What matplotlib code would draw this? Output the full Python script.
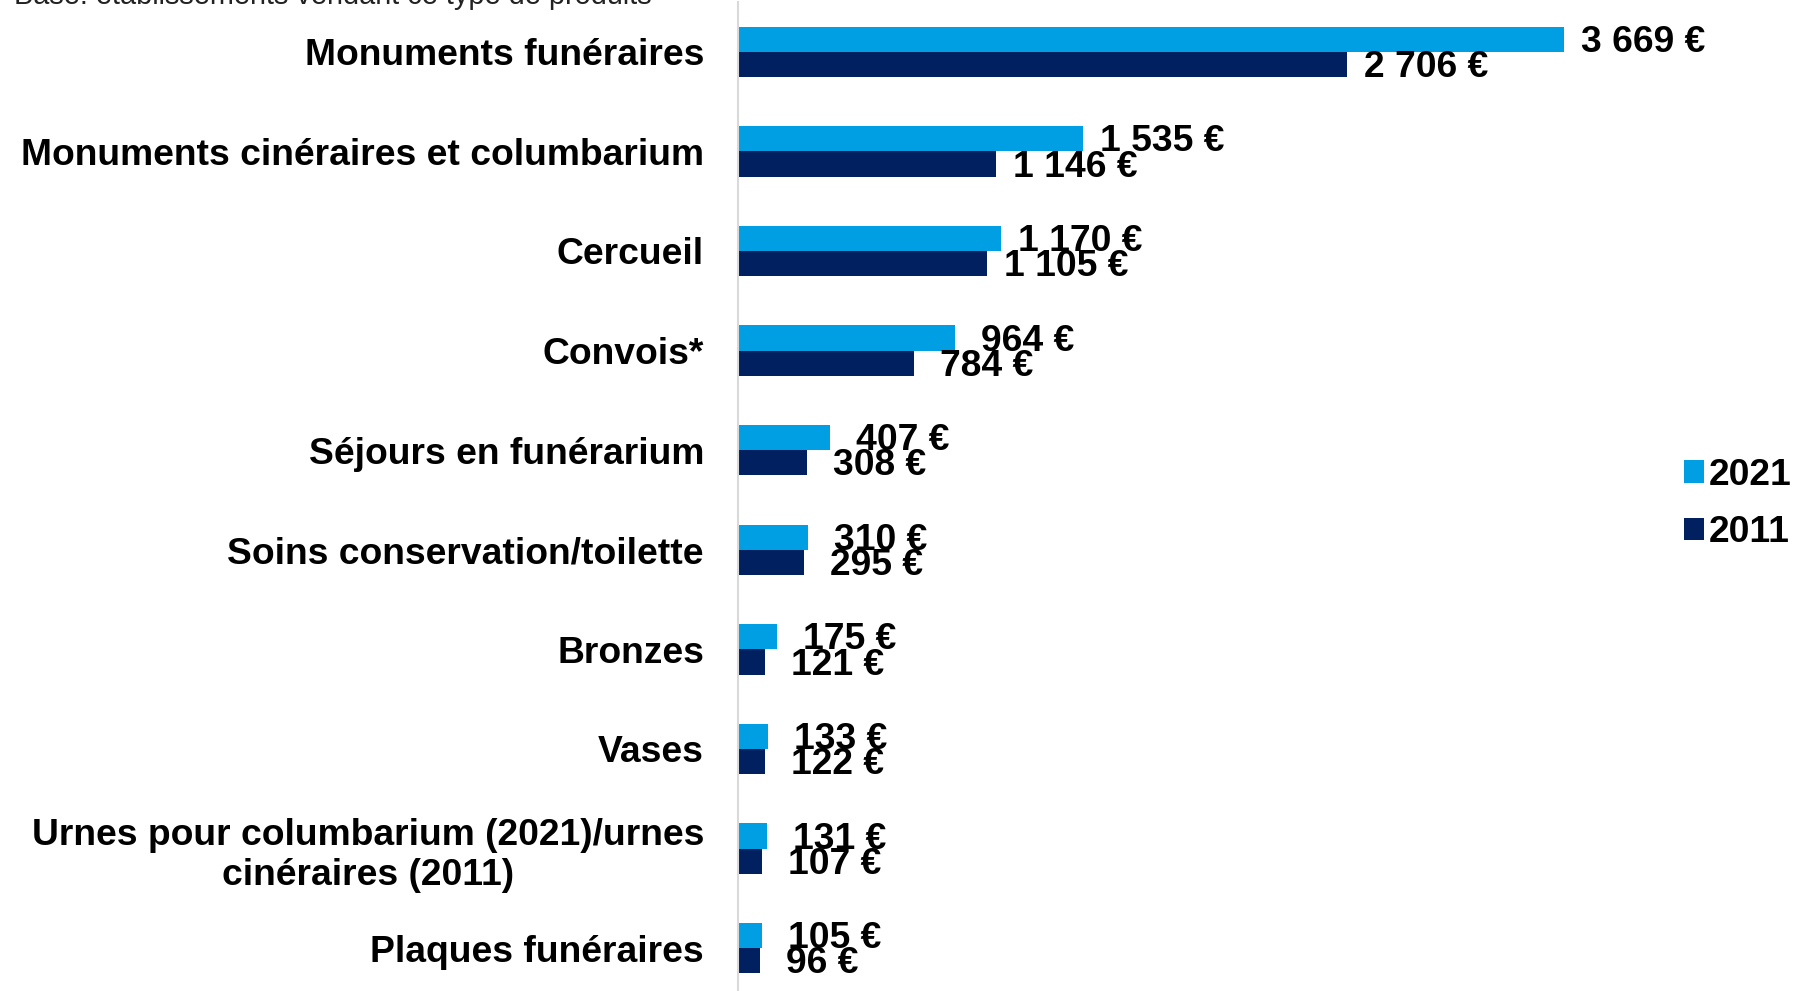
import matplotlib
matplotlib.use("Agg")
import matplotlib.pyplot as plt
import numpy as np

categories = [
    "Monuments funéraires",
    "Monuments cinéraires et columbarium",
    "Cercueil",
    "Convois*",
    "Séjours en funérarium",
    "Soins conservation/toilette",
    "Bronzes",
    "Vases",
    "Urnes pour columbarium (2021)/urnes\ncinéraires (2011)",
    "Plaques funéraires",
]
values_2021 = [3669, 1535, 1170, 964, 407, 310, 175, 133, 131, 105]
values_2011 = [2706, 1146, 1105, 784, 308, 295, 121, 122, 107, 96]
series_names = ["2021", "2011"]
subtitle = "Base: établissements vendant ce type de produits"

c21 = "#009FE3"
c11 = "#002060"

plt.rcParams['font.family'] = ['Liberation Sans', 'DejaVu Sans']

W, H = 1796, 991
fig = plt.figure(figsize=(W / 100, H / 100), dpi=100)
ax_left = 738 / W
ax_w = 900 / W
ax_bottom = (H - 998) / H
ax_top = 1 - 2 / H
ax = fig.add_axes([ax_left, ax_bottom, ax_w, ax_top - ax_bottom])

n = len(categories)
y = np.arange(n)
bh = 0.253
ax.barh(y - bh / 2, values_2021, height=bh, color=c21, label=series_names[0])
ax.barh(y + bh / 2, values_2011, height=bh, color=c11, label=series_names[1])
ax.set_ylim(n - 0.5, -0.5)
ax.set_xlim(0, 4000)

fs = 26.8


def fmt(v):
    return f"{v:,}".replace(",", " ") + " €"


for vals, off_y in ((values_2021, -bh / 2), (values_2011, bh / 2)):
    for i, v in enumerate(vals):
        pad = 17 if v >= 1000 else 26
        ax.annotate(fmt(v), xy=(v, i + off_y), xytext=(pad * 72 / 100, -2.2),
                    textcoords="offset points", ha="left", va="center",
                    fontsize=fs, fontweight="bold", color="black")

ax.set_yticks(y)
ax.set_yticklabels(categories, fontsize=fs, fontweight="bold", multialignment="center")
ax.tick_params(axis="y", length=0, pad=24.5)
ax.set_xticks([])
for s in ["top", "right", "bottom"]:
    ax.spines[s].set_visible(False)
ax.spines["left"].set_color("#D9D9D9")
ax.spines["left"].set_linewidth(1.5)

handles, labels = ax.get_legend_handles_labels()
fig.legend(handles, labels, loc="center left", bbox_to_anchor=(1684 / W, 1 - 504 / H),
           frameon=False, prop={"size": fs, "weight": "bold"}, handlelength=0.55,
           handleheight=0.55, handletextpad=0.12, labelspacing=0.6, borderaxespad=0,
           borderpad=0)

fig.text(14 / W, 1 - 4 / H, subtitle, ha="left", va="baseline", fontsize=20.8, color="#222222")

fig.savefig("out.png", dpi=100)
